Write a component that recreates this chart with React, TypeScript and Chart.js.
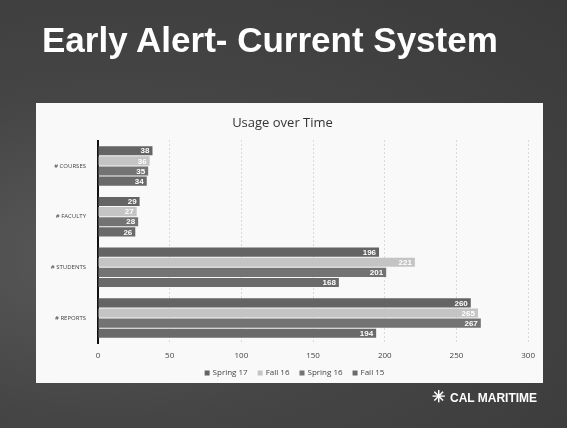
import React, { useEffect, useRef } from "react";
import { Chart, registerables } from "chart.js";

Chart.register(...registerables);

const categories = ["# COURSES", "# FACULTY", "# STUDENTS", "# REPORTS"];
const seriesNames = ["Spring 17", "Fall 16", "Spring 16", "Fall 15"];
const spring17 = [38, 29, 196, 260];
const fall16 = [36, 27, 221, 265];
const spring16 = [35, 28, 201, 267];
const fall15 = [34, 26, 168, 194];
const xTicks = [0, 50, 100, 150, 200, 250, 300];

const seriesColors = ["#646464", "#c4c4c4", "#737373", "#6a6a6a"];

const labelPlugin = {
  id: "barLabels",
  afterDatasetsDraw(chart: any) {
    const ctx = chart.ctx;
    ctx.save();
    ctx.font = "bold 8px 'Liberation Sans', Arial, sans-serif";
    ctx.fillStyle = "#ffffff";
    ctx.textAlign = "right";
    ctx.textBaseline = "middle";
    chart.data.datasets.forEach((ds: any, i: number) => {
      const meta = chart.getDatasetMeta(i);
      meta.data.forEach((bar: any, j: number) => {
        ctx.fillText(String(ds.data[j]), bar.x - 3, bar.y + 0.5);
      });
    });
    ctx.restore();
  },
};

const legendPlugin = {
  id: "bottomLegend",
  afterDraw(chart: any) {
    const ctx = chart.ctx;
    ctx.save();
    ctx.font = "8px 'Open Sans', sans-serif";
    ctx.textBaseline = "middle";
    ctx.textAlign = "left";
    const box = 5;
    const gap = 3;
    const spacing = 10;
    const items = chart.data.datasets.map((ds: any) => ({
      text: ds.label,
      color: ds.backgroundColor,
      w: box + gap + ctx.measureText(ds.label).width,
    }));
    const total =
      items.reduce((s: number, it: any) => s + it.w, 0) + spacing * (items.length - 1);
    let x = 258.5 - total / 2;
    const y = 270;
    items.forEach((it: any) => {
      ctx.fillStyle = it.color;
      ctx.fillRect(x, y - box / 2, box, box);
      ctx.fillStyle = "#444444";
      ctx.fillText(it.text, x + box + gap, y);
      x += it.w + spacing;
    });
    ctx.restore();
  },
};

function ChartBox() {
  const ref = useRef<HTMLCanvasElement | null>(null);
  useEffect(() => {
    if (!ref.current) return;
    const values = [spring17, fall16, spring16, fall15];
    const chart = new Chart(ref.current, {
      type: "bar",
      data: {
        labels: categories,
        datasets: seriesNames.map((name, i) => ({
          label: name,
          data: values[i],
          backgroundColor: seriesColors[i],
          borderWidth: 0,
          categoryPercentage: 0.8,
          barPercentage: 0.9,
        })),
      },
      options: {
        indexAxis: "y",
        animation: false,
        responsive: false,
        maintainAspectRatio: false,
        layout: { padding: { left: 0, right: 14, top: 6, bottom: 14 } },
        plugins: {
          title: {
            display: true,
            text: "Usage over Time",
            color: "#333333",
            font: { family: "'Open Sans', sans-serif", size: 13, weight: "normal" },
            padding: { top: 6, bottom: 10 },
          },
          legend: { display: false },
          tooltip: { enabled: false },
        },
        scales: {
          x: {
            min: 0,
            max: 300,
            afterBuildTicks: (scale: any) => {
              scale.ticks = xTicks.map((v) => ({ value: v }));
            },
            grid: {
              display: true,
              color: "#bbbbbb",
              drawTicks: false,
            },
            border: { display: false, dash: [1, 3] } as any,
            ticks: {
              color: "#444444",
              font: { family: "'Open Sans', sans-serif", size: 8 },
              padding: 8,
            },
          },
          y: {
            afterFit: (scale: any) => {
              scale.width = 62;
            },
            grid: { display: false },
            border: { display: true, color: "#111111", width: 2 },
            ticks: {
              color: "#444444",
              font: { family: "'Open Sans', sans-serif", size: 6 },
              padding: 4,
            },
          },
        },
      },
      plugins: [labelPlugin, legendPlugin],
    });
    return () => chart.destroy();
  }, []);
  return <canvas ref={ref} width={507} height={280} style={{ display: "block" }} />;
}

export default function App() {
  return (
    <div
      style={{
        position: "fixed",
        left: 0,
        top: 0,
        width: 567,
        height: 428,
        overflow: "hidden",
        background:
          "radial-gradient(ellipse at 20% 60%, #5a5a5a 0%, #454545 45%, #3a3a3a 100%)",
      }}
    >
      <div
        style={{
          position: "absolute",
          left: 42,
          top: 20,
          color: "#ffffff",
          fontFamily: "'Liberation Sans', Arial, sans-serif",
          fontWeight: "bold",
          fontSize: 35,
          whiteSpace: "nowrap",
        }}
      >
        Early Alert- Current System
      </div>
      <div
        style={{
          position: "absolute",
          left: 36,
          top: 103,
          width: 507,
          height: 280,
          background: "#f9f9f9",
        }}
      >
        <ChartBox />
      </div>
      <div
        style={{
          position: "absolute",
          left: 432,
          top: 387,
          color: "#ffffff",
          fontFamily: "'Liberation Sans', Arial, sans-serif",
          fontWeight: "bold",
          fontSize: 12,
          whiteSpace: "nowrap",
        }}
      >
        <span style={{ fontSize: 16, marginRight: 5 }}>✳</span>CAL MARITIME
      </div>
    </div>
  );
}
